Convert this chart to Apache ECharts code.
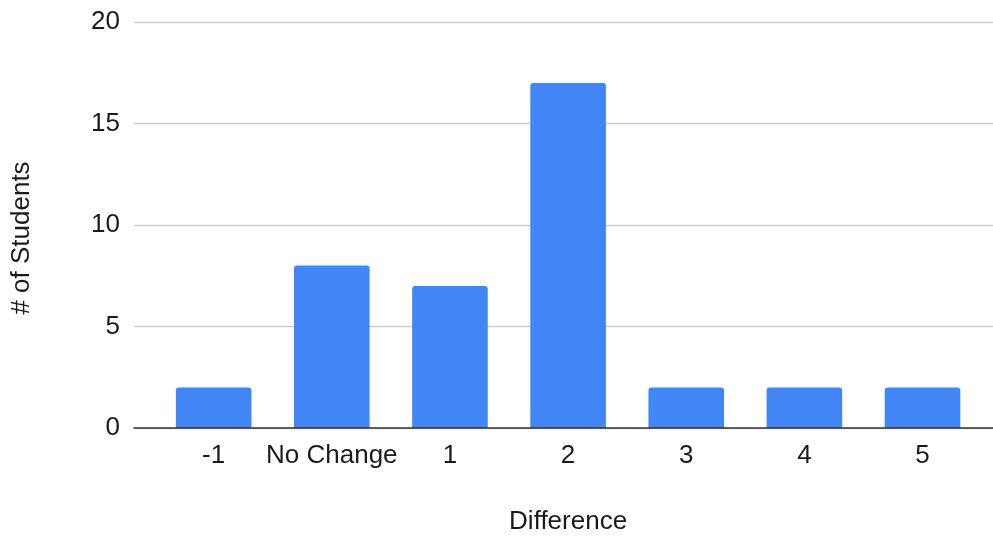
<!DOCTYPE html>
<html>
<head>
<meta charset="utf-8">
<script src="https://cdn.jsdelivr.net/npm/echarts@6/dist/echarts.min.js"></script>
<style>
  html, body { margin: 0; padding: 0; background: #fff; }
  #chart { width: 993px; height: 537px; }
</style>
</head>
<body>
<div id="chart"></div>
<script>
// Score differences and how many students fall in each
const categories = ['-1', 'No Change', '1', '2', '3', '4', '5'];
const students = [2, 8, 7, 17, 2, 2, 2];
const yTicks = { min: 0, max: 20, interval: 5 };

const FONT = '"Liberation Sans", Arial, Helvetica, sans-serif';
const TEXT = '#1a1a1a';
const SIZE = 26;

const chart = echarts.init(document.getElementById('chart'));

chart.setOption({
  animation: false,
  textStyle: { fontFamily: FONT },
  grid: [
    // full-width frame carrying gridlines and the baseline
    { left: 134, right: 0, top: 22, bottom: 109, outerBoundsMode: 'none', containLabel: false },
    // inset area where the bars sit
    { left: 154.6, right: 11.4, top: 22, bottom: 109, outerBoundsMode: 'none', containLabel: false }
  ],
  xAxis: [
    {
      gridIndex: 0, type: 'value', min: 0, max: 1, z: 5,
      axisLine: { show: true, lineStyle: { color: '#333', width: 1.5 } },
      axisTick: { show: false }, axisLabel: { show: false }, splitLine: { show: false }
    },
    {
      gridIndex: 1, type: 'category', data: categories,
      axisLine: { show: false }, axisTick: { show: false },
      axisLabel: { fontSize: SIZE, color: TEXT, margin: 15, interval: 0, fontFamily: FONT },
      name: 'Difference', nameLocation: 'middle', nameGap: 81,
      nameTextStyle: { fontSize: SIZE, color: TEXT, fontFamily: FONT }
    }
  ],
  yAxis: [
    {
      gridIndex: 0, type: 'value', min: yTicks.min, max: yTicks.max, interval: yTicks.interval,
      axisLine: { show: false }, axisTick: { show: false },
      axisLabel: { fontSize: SIZE, color: TEXT, margin: 14, fontFamily: FONT },
      splitLine: { lineStyle: { color: '#cccccc', width: 1.3 } }
    },
    {
      gridIndex: 1, type: 'value', min: yTicks.min, max: yTicks.max, interval: yTicks.interval,
      show: false, splitLine: { show: false }
    }
  ],
  graphic: [
    {
      type: 'text', x: 22, y: 238, rotation: Math.PI / 2,
      style: {
        text: '# of Students', fontSize: SIZE, fontFamily: FONT, fill: TEXT,
        textAlign: 'center', textVerticalAlign: 'middle'
      }
    }
  ],
  series: [
    {
      type: 'bar', xAxisIndex: 1, yAxisIndex: 1,
      data: students, barWidth: '64%',
      itemStyle: { color: '#4285f4', borderRadius: [3, 3, 0, 0] }
    }
  ]
});
</script>
</body>
</html>
